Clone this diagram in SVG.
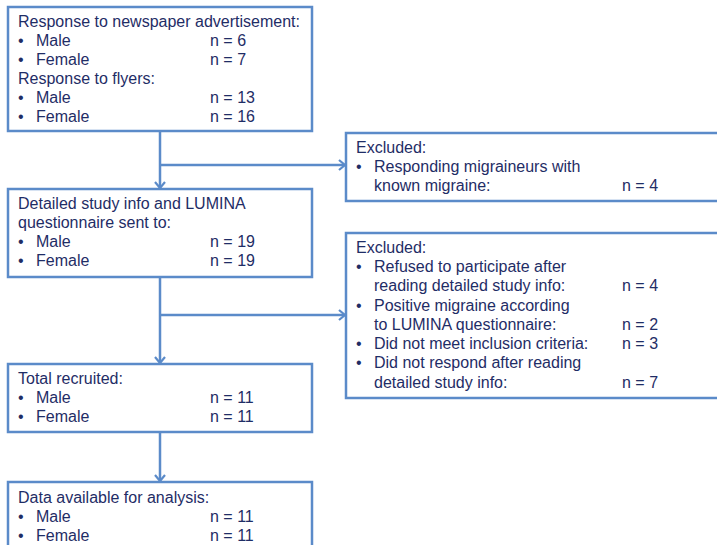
<svg xmlns="http://www.w3.org/2000/svg" width="717" height="545" viewBox="0 0 717 545">
<defs>
<style>
.box{fill:#fff;stroke:#5B8BC9;stroke-width:2.5}
.ln{fill:none;stroke:#5B8BC9;stroke-width:2.5}
text{font-family:"Liberation Sans",Arial,sans-serif;font-size:16px;fill:#1F2D66}
</style>
<marker id="arr" markerWidth="12" markerHeight="12" refX="10" refY="6" orient="auto" markerUnits="userSpaceOnUse">
<path d="M4,1 L10,6 L4,11" fill="none" stroke="#5B8BC9" stroke-width="2.2"/>
</marker>
</defs>
<rect width="717" height="545" fill="#fff"/>
<g id="connectors">
<line class="ln" x1="160" y1="131" x2="160" y2="188" marker-end="url(#arr)"/>
<line class="ln" x1="160" y1="165" x2="345" y2="165" marker-end="url(#arr)"/>
<line class="ln" x1="160" y1="277" x2="160" y2="363" marker-end="url(#arr)"/>
<line class="ln" x1="160" y1="315" x2="345" y2="315" marker-end="url(#arr)"/>
<line class="ln" x1="160" y1="432" x2="160" y2="481" marker-end="url(#arr)"/>
</g>
<g id="n1">
<rect class="box" x="8" y="7" width="304" height="124"/>
<text x="18" y="27">Response to newspaper advertisement:</text>
<text x="18" y="46">•</text><text x="36" y="46">Male</text><text x="210" y="46">n = 6</text>
<text x="18" y="65">•</text><text x="36" y="65">Female</text><text x="210" y="65">n = 7</text>
<text x="18" y="84">Response to flyers:</text>
<text x="18" y="103">•</text><text x="36" y="103">Male</text><text x="210" y="103">n = 13</text>
<text x="18" y="122">•</text><text x="36" y="122">Female</text><text x="210" y="122">n = 16</text>
</g>
<g id="n2">
<rect class="box" x="346" y="133" width="380" height="68"/>
<text x="356" y="153">Excluded:</text>
<text x="356" y="172">•</text><text x="374" y="172">Responding migraineurs with</text>
<text x="374" y="191">known migraine:</text><text x="622" y="191">n = 4</text>
</g>
<g id="n3">
<rect class="box" x="8" y="189" width="304" height="88"/>
<text x="18" y="209">Detailed study info and LUMINA</text>
<text x="18" y="228">questionnaire sent to:</text>
<text x="18" y="247">•</text><text x="36" y="247">Male</text><text x="210" y="247">n = 19</text>
<text x="18" y="266">•</text><text x="36" y="266">Female</text><text x="210" y="266">n = 19</text>
</g>
<g id="n4">
<rect class="box" x="346" y="233" width="380" height="165"/>
<text x="356" y="253">Excluded:</text>
<text x="356" y="272">•</text><text x="374" y="272">Refused to participate after</text>
<text x="374" y="291">reading detailed study info:</text><text x="622" y="291">n = 4</text>
<text x="356" y="311">•</text><text x="374" y="311">Positive migraine according</text>
<text x="374" y="330">to LUMINA questionnaire:</text><text x="622" y="330">n = 2</text>
<text x="356" y="349">•</text><text x="374" y="349">Did not meet inclusion criteria:</text><text x="622" y="349">n = 3</text>
<text x="356" y="368">•</text><text x="374" y="368">Did not respond after reading</text>
<text x="374" y="388">detailed study info:</text><text x="622" y="388">n = 7</text>
</g>
<g id="n5">
<rect class="box" x="8" y="364" width="304" height="68"/>
<text x="18" y="384">Total recruited:</text>
<text x="18" y="403">•</text><text x="36" y="403">Male</text><text x="210" y="403">n = 11</text>
<text x="18" y="422">•</text><text x="36" y="422">Female</text><text x="210" y="422">n = 11</text>
</g>
<g id="n6">
<rect class="box" x="8" y="482" width="304" height="80"/>
<text x="18" y="503">Data available for analysis:</text>
<text x="18" y="522">•</text><text x="36" y="522">Male</text><text x="210" y="522">n = 11</text>
<text x="18" y="541">•</text><text x="36" y="541">Female</text><text x="210" y="541">n = 11</text>
</g>
</svg>
